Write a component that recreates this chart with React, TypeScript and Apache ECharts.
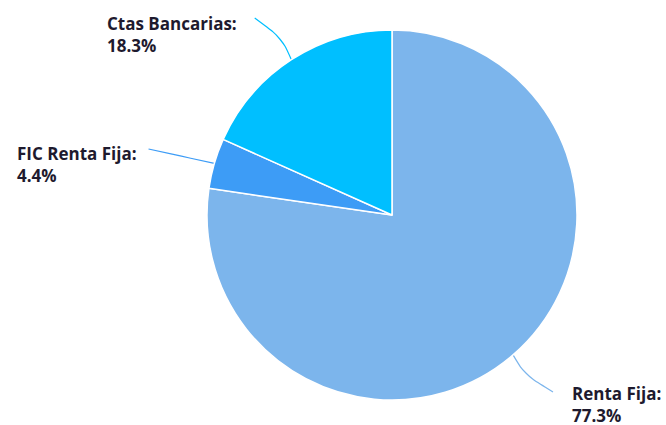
import React, { useEffect, useRef } from "react";
import * as echarts from "echarts";

const categories = ["Renta Fija", "FIC Renta Fija", "Ctas Bancarias"];
const values = [77.3, 4.4, 18.3];
const colors = ["#7cb5ec", "#3d9cf6", "#00bfff"];
const labelAnchors = [
  [572, 382],
  [17, 142],
  [107, 12],
];

export default function App() {
  const ref = useRef<HTMLDivElement>(null);
  useEffect(() => {
    const chart = echarts.init(ref.current!, null, { renderer: "svg" });
    const cx = 392;
    const cy = 215;
    const R = 185;
    const total = values.reduce((a, b) => a + b, 0);
    const midAngles: number[] = [];
    let acc = 0;
    values.forEach((v) => {
      midAngles.push(((acc + v / 2) / total) * Math.PI * 2);
      acc += v;
    });
    chart.setOption({
      animation: false,
      series: [
        {
          type: "pie",
          center: [cx, cy],
          radius: R,
          startAngle: 90,
          clockwise: true,
          data: categories.map((name, i) => ({
            name,
            value: values[i],
            itemStyle: { color: colors[i] },
          })),
          itemStyle: { borderColor: "#ffffff", borderWidth: 1.5 },
          label: {
            show: true,
            position: "outside",
            formatter: (p: any) => `${p.name}:\n${p.value.toFixed(1)}%`,
            fontFamily: "Open Sans",
            fontWeight: "bold",
            fontSize: 17,
            lineHeight: 22,
            color: "#1e1a2e",
          },
          labelLine: { show: true, smooth: 0.35, lineStyle: { width: 1.2 } },
          labelLayout: (params: any) => {
            const i = params.dataIndex;
            const a = labelAnchors[i];
            const ang = midAngles[i];
            const dx = Math.sin(ang);
            const dy = -Math.cos(ang);
            const p0 = [cx + R * dx, cy + R * dy];
            const w = params.labelRect.width;
            let end: number[];
            let mid: number[];
            if (dx > 0) {
              end = [a[0] - 19, a[1] + 10];
              mid = [p0[0] + 18 * dx, p0[1] + 26 * dy];
            } else if (dy < -0.5) {
              end = [a[0] + w + 18, a[1] + 6];
              mid = [p0[0] + 18 * dx, p0[1] + 26 * dy];
            } else {
              end = [a[0] + w + 12, a[1] + 7];
              mid = [(p0[0] + end[0]) / 2, (p0[1] + end[1]) / 2];
            }
            return {
              x: a[0],
              y: a[1],
              align: "left",
              verticalAlign: "top",
              labelLinePoints: [p0, mid, end],
            };
          },
          emphasis: { disabled: true },
        },
      ],
    });
    return () => chart.dispose();
  }, []);
  return (
    <div
      ref={ref}
      style={{ position: "fixed", left: 0, top: 0, width: 666, height: 425, background: "#fff" }}
    />
  );
}
